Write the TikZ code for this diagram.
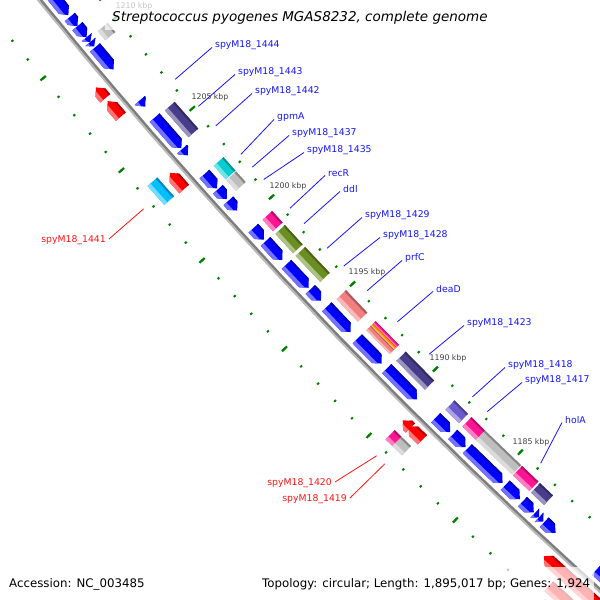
\documentclass[tikz,border=0pt]{standalone}
\usepackage{fontspec}
\setmainfont{DejaVu Sans}
\definecolor{cdsblue}{RGB}{0,0,255}
\definecolor{cdsred}{RGB}{255,0,0}
\definecolor{cnavy}{RGB}{72,61,139}
\definecolor{cteal}{RGB}{0,206,209}
\definecolor{cgray}{RGB}{190,190,190}
\definecolor{cpink}{RGB}{255,20,147}
\definecolor{colive}{RGB}{107,142,35}
\definecolor{csalmon}{RGB}{240,128,128}
\definecolor{corange}{RGB}{255,140,0}
\definecolor{cslate}{RGB}{106,90,205}
\definecolor{csky}{RGB}{0,191,255}
\definecolor{ctick}{RGB}{0,128,0}
\definecolor{bbdark}{RGB}{125,125,125}
\definecolor{bblight}{RGB}{185,185,185}
\definecolor{labblue}{RGB}{20,20,255}
\definecolor{labred}{RGB}{255,20,20}

\newcommand\gang[1]{138.92+((#1)-1205)*0.258}
\newcommand\gbox[5]{%
 \pgfmathsetmacro\gW{(#3)-(#4)}%
 \pgfmathsetmacro\gdl{(#3)-0.3*\gW}%
 \pgfmathsetmacro\gdd{(#4)+0.15*\gW}%
 \fill[#5] ({\gang{#1}}:{5324+(#3)}) -- ({\gang{#2}}:{5324+(#3)}) -- ({\gang{#2}}:{5324+(#4)}) -- ({\gang{#1}}:{5324+(#4)}) -- cycle;
 \fill[#5!55!white] ({\gang{#1}}:{5324+(#3)}) -- ({\gang{#2}}:{5324+(#3)}) -- ({\gang{#2}}:{5324+(\gdl)}) -- ({\gang{#1}}:{5324+(\gdl)}) -- cycle;
 \fill[#5!70!black] ({\gang{#1}}:{5324+(#4)}) -- ({\gang{#2}}:{5324+(#4)}) -- ({\gang{#2}}:{5324+(\gdd)}) -- ({\gang{#1}}:{5324+(\gdd)}) -- cycle;
}
\newcommand\garrow[5]{%
 \pgfmathsetmacro\gL{(#2)-(#1)}%
 \pgfmathsetmacro\gh{(\gL>0 ? 1 : -1)*min(0.29,abs(\gL))}%
 \pgfmathsetmacro\gkb{(#2)-(\gh)}%
 \pgfmathsetmacro\gW{(#3)-(#4)}%
 \pgfmathsetmacro\gdm{((#3)+(#4))/2}%
 \pgfmathsetmacro\gdl{(#3)-0.3*\gW}%
 \pgfmathsetmacro\gdd{(#4)+0.15*\gW}%
 \pgfmathsetmacro\gkl{\gkb+0.6*(\gh)}%
 \pgfmathsetmacro\gkd{\gkb+0.3*(\gh)}%
 \fill[#5] ({\gang{#1}}:{5324+(#3)}) -- ({\gang{\gkb}}:{5324+(#3)}) -- ({\gang{#2}}:{5324+(\gdm)}) -- ({\gang{\gkb}}:{5324+(#4)}) -- ({\gang{#1}}:{5324+(#4)}) -- cycle;
 \fill[#5!55!white] ({\gang{#1}}:{5324+(#3)}) -- ({\gang{\gkb}}:{5324+(#3)}) -- ({\gang{\gkl}}:{5324+(\gdl)}) -- ({\gang{#1}}:{5324+(\gdl)}) -- cycle;
 \fill[#5!70!black] ({\gang{#1}}:{5324+(#4)}) -- ({\gang{\gkb}}:{5324+(#4)}) -- ({\gang{\gkd}}:{5324+(\gdd)}) -- ({\gang{#1}}:{5324+(\gdd)}) -- cycle;
}
\tikzset{
 lbl/.style={font=\fontsize{9.3}{11}\selectfont, inner sep=0pt},
 lblb/.style={lbl, anchor=west, text=labblue},
 lblr/.style={lbl, anchor=east, text=labred},
 lineb/.style={draw=labblue, line width=0.8pt},
 liner/.style={draw=labred, line width=0.8pt},
 kbp/.style={font=\fontsize{7.8}{9}\selectfont, text=black!75, inner sep=0pt},
 veil/.style={fill=white, opacity=0.7},
}
\begin{document}
\begin{tikzpicture}[x=1pt,y=-1pt]
\useasboundingbox (0,0) rectangle (600,600);
\clip (0,0) rectangle (600,600);
\fill[white] (0,0) rectangle (600,600);
\begin{scope}[shift={(4170,-3359)}]
% backbone
\draw[bbdark, line width=2.6] plot[domain=131:142, samples=60] (\x:{5324-0.9});
\draw[bblight, line width=1.9] plot[domain=131:142, samples=60] (\x:{5324+1.3});
% green ruler ticks
\foreach \k in {1176,...,1215} {
  \draw[ctick, line width=2] ({\gang{\k}}:{5324-48.2}) -- ({\gang{\k}}:{5324-45.8});
  \draw[ctick, line width=2] ({\gang{\k}}:{5324+45.8}) -- ({\gang{\k}}:{5324+48.2});
}
\foreach \k in {1180,1185,...,1215} {
  \draw[ctick, line width=2.2] ({\gang{\k}}:{5324-50.5}) -- ({\gang{\k}}:{5324-43.5});
  \draw[ctick, line width=2.2] ({\gang{\k}}:{5324+43.5}) -- ({\gang{\k}}:{5324+50.5});
}
% reverse-strand CDS (blue)
\garrow{1214.5}{1211.35}{-6}{-19}{cdsblue}
\garrow{1211.25}{1210.75}{-6}{-19}{cdsblue}
\garrow{1210.75}{1210.15}{-6}{-19}{cdsblue}
\garrow{1210.15}{1209.9}{-6}{-19}{cdsblue}
\garrow{1209.9}{1209.65}{-6}{-19}{cdsblue}
\garrow{1209.6}{1208.4}{-6}{-19}{cdsblue}
\garrow{1206.7}{1206.35}{-6}{-19}{cdsblue}
\garrow{1205.75}{1204.05}{-6}{-19}{cdsblue}
\garrow{1204.0}{1203.65}{-6}{-19}{cdsblue}
\garrow{1202.6}{1201.8}{-6}{-19}{cdsblue}
\garrow{1201.75}{1201.2}{-6}{-19}{cdsblue}
\garrow{1201.1}{1200.55}{-6}{-19}{cdsblue}
\garrow{1199.55}{1198.9}{-6}{-19}{cdsblue}
\garrow{1198.8}{1197.75}{-6}{-19}{cdsblue}
\garrow{1197.5}{1196.15}{-6}{-19}{cdsblue}
\garrow{1196.05}{1195.4}{-6}{-19}{cdsblue}
\garrow{1195.05}{1193.6}{-6}{-19}{cdsblue}
\garrow{1193.2}{1191.75}{-6}{-19}{cdsblue}
\garrow{1191.45}{1189.65}{-6}{-19}{cdsblue}
\garrow{1188.55}{1187.7}{-6}{-19}{cdsblue}
\garrow{1187.55}{1186.8}{-6}{-19}{cdsblue}
\garrow{1186.7}{1184.65}{-6}{-19}{cdsblue}
\garrow{1184.5}{1183.65}{-6}{-19}{cdsblue}
\garrow{1183.5}{1182.85}{-6}{-19}{cdsblue}
\garrow{1182.8}{1182.55}{-6}{-19}{cdsblue}
\garrow{1182.55}{1182.3}{-6}{-19}{cdsblue}
\garrow{1182.25}{1181.6}{-6}{-19}{cdsblue}
\garrow{1179.3}{1176}{-6}{-19}{cdsblue}
% inner category boxes
\gbox{1210.05}{1209.55}{-25}{-38}{cgray}
\gbox{1205.7}{1204.2}{-25}{-38}{cnavy}
\gbox{1202.6}{1201.85}{-25}{-38}{cteal}
\gbox{1201.8}{1201.2}{-25}{-38}{cgray}
\gbox{1199.55}{1198.9}{-25}{-38}{cpink}
\gbox{1198.75}{1197.65}{-25}{-38}{colive}
\gbox{1197.5}{1196.0}{-25}{-38}{colive}
\gbox{1195.0}{1193.7}{-25}{-38}{csalmon}
\gbox{1193.2}{1191.8}{-25}{-31.5}{csalmon}
\gbox{1193.2}{1191.8}{-31.5}{-34.75}{corange}
\gbox{1193.2}{1191.8}{-34.75}{-38}{cpink}
\gbox{1191.4}{1189.7}{-25}{-38}{cnavy}
\gbox{1188.5}{1187.7}{-25}{-38}{cslate}
\gbox{1187.5}{1186.7}{-25}{-38}{cpink}
\gbox{1186.7}{1184.6}{-25}{-38}{cgray}
\gbox{1184.55}{1183.6}{-25}{-38}{cpink}
\gbox{1183.5}{1182.75}{-25}{-38}{cnavy}
% forward-strand CDS (red)
\garrow{1207.7}{1208.3}{19}{6}{cdsred}
\garrow{1206.7}{1207.55}{19}{6}{cdsred}
\garrow{1202.7}{1203.6}{19}{6}{cdsred}
\garrow{1189.0}{1189.45}{19}{6}{cdsred}
\garrow{1188.3}{1189.1}{19}{6}{cdsred}
\garrow{1177}{1181.3}{19}{6}{cdsred}
% outer category boxes
\gbox{1203.8}{1202.75}{38}{25}{csky}
\gbox{1189.4}{1189.0}{38}{25}{cpink}
\gbox{1189.0}{1188.45}{38}{25}{cgray}
\gbox{1180.3}{1177}{38}{25}{cdsred}
% label anchors on the map
\coordinate (e1444) at ({\gang{1206.4}}:{5324-53});
\coordinate (e1443) at ({\gang{1204.9}}:{5324-53});
\coordinate (e1442) at ({\gang{1203.8}}:{5324-53});
\coordinate (egpmA) at ({\gang{1202.2}}:{5324-53});
\coordinate (e1437) at ({\gang{1201.48}}:{5324-53});
\coordinate (e1435) at ({\gang{1200.77}}:{5324-53});
\coordinate (erecR) at ({\gang{1199.13}}:{5324-53});
\coordinate (eddl) at ({\gang{1198.25}}:{5324-53});
\coordinate (e1429) at ({\gang{1196.83}}:{5324-53});
\coordinate (e1428) at ({\gang{1195.8}}:{5324-53});
\coordinate (eprfC) at ({\gang{1194.37}}:{5324-53});
\coordinate (edeaD) at ({\gang{1192.54}}:{5324-53});
\coordinate (e1423) at ({\gang{1190.63}}:{5324-53});
\coordinate (e1418) at ({\gang{1188.07}}:{5324-53});
\coordinate (e1417) at ({\gang{1187.19}}:{5324-53});
\coordinate (eholA) at ({\gang{1184.06}}:{5324-53});
\coordinate (e1441) at ({\gang{1203.2}}:{5324+56});
\coordinate (e1420) at ({\gang{1189.18}}:{5324+56});
\coordinate (e1419) at ({\gang{1188.71}}:{5324+56});
\end{scope}
% kbp labels
\node[kbp] (k1210) at (134,6) {1210 kbp};
\node[kbp] (k1205) at (210,97) {1205 kbp};
\node[kbp] (k1200) at (288,186) {1200 kbp};
\node[kbp] (k1195) at (367,272) {1195 kbp};
\node[kbp] (k1190) at (448,358) {1190 kbp};
\node[kbp] (k1185) at (531,442) {1185 kbp};
% gene labels
\node[lblb] (l1444) at (215,45) {spyM18\_1444};
\node[lblb] (l1443) at (238,72) {spyM18\_1443};
\node[lblb] (l1442) at (255,91) {spyM18\_1442};
\node[lblb] (lgpmA) at (277,117) {gpmA};
\node[lblb] (l1437) at (292,133) {spyM18\_1437};
\node[lblb] (l1435) at (307,150) {spyM18\_1435};
\node[lblb] (lrecR) at (328,173) {recR};
\node[lblb] (lddl) at (343,189) {ddl};
\node[lblb] (l1429) at (365,215) {spyM18\_1429};
\node[lblb] (l1428) at (383,235) {spyM18\_1428};
\node[lblb] (lprfC) at (405,258) {prfC};
\node[lblb] (ldeaD) at (436,289) {deaD};
\node[lblb] (l1423) at (467,323) {spyM18\_1423};
\node[lblb] (l1418) at (508,365) {spyM18\_1418};
\node[lblb] (l1417) at (525,380) {spyM18\_1417};
\node[lblb] (lholA) at (565,420) {holA};
\node[lblr] (l1441) at (106,240) {spyM18\_1441};
\node[lblr] (l1420) at (332,483) {spyM18\_1420};
\node[lblr] (l1419) at (347,499) {spyM18\_1419};
\foreach \n in {1444,1443,1442,gpmA,1437,1435,recR,ddl,1429,1428,prfC,deaD,1423,1418,1417,holA}
  \draw[lineb] ([shift={(-3,2.5)}]l\n.west) -- (e\n);
\foreach \n in {1441,1420,1419}
  \draw[liner] ([shift={(3,-1)}]l\n.east) -- (e\n);
% veils behind title and footer
\fill[veil] (105,0) rectangle (495,30);
\fill[veil] (4,567) rectangle (146,600);
\fill[veil] (255,567) rectangle (594,600);
\node[anchor=west, inner sep=0pt, font=\fontsize{13.5}{16}\selectfont\itshape] (title) at (112,18) {Streptococcus pyogenes MGAS8232, complete genome};
\node[anchor=west, inner sep=0pt, font=\fontsize{11.8}{14}\selectfont] (acc) at (9,584) {Accession: NC\_003485};
\node[anchor=west, inner sep=0pt, font=\fontsize{11.8}{14}\selectfont] (topo) at (262,584) {Topology: circular; Length: 1,895,017 bp; Genes: 1,924};
\end{tikzpicture}
\end{document}
